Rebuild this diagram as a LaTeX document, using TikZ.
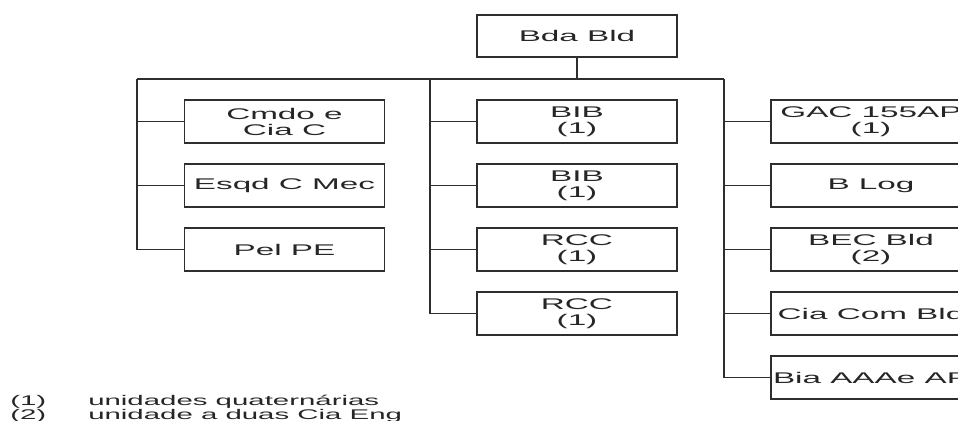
\documentclass[tikz,border=0pt]{standalone}
\usepackage{fontspec}
\setmainfont{Liberation Sans}[FakeStretch=2.15]
\newfontfamily\notefont{Liberation Sans}[FakeStretch=2.1]
\begin{document}
\begin{tikzpicture}[x=0.75pt,y=-0.75pt,
  ln/.style={draw=black!82,line width=1.4pt},
  unit/.style={ln,rectangle,minimum width=150pt,minimum height=32.25pt,inner sep=0pt,
    align=center,text=black!85,font=\fontsize{11.6}{12}\selectfont},
  note/.style={anchor=base west,inner sep=0pt,text=black!85,font=\notefont\fontsize{10.5}{12}\selectfont}]
\useasboundingbox (0,0) rectangle (958,421);
\clip (0,0) rectangle (958,421);
% top
\node[unit,minimum height=31.5pt] (top) at (577,36) {Bda Bld};
\coordinate (busL) at (137,79);
\coordinate (busM) at (430,79);
\coordinate (busR) at (724,79);
\coordinate (busC) at (577,79);
% left column
\node[unit] (l1) at (284.5,121.5) {Cmdo e\\Cia C};
\node[unit] (l2) at (284.5,185.5) {Esqd C Mec};
\node[unit] (l3) at (284.5,249.5) {Pel PE};
% middle column
\node[unit] (m1) at (577,121.5) {BIB\\(1)};
\node[unit] (m2) at (577,185.5) {BIB\\(1)};
\node[unit] (m3) at (577,249.5) {RCC\\(1)};
\node[unit] (m4) at (577,313.5) {RCC\\(1)};
% right column (cut off at the picture's right edge, as in the reference)
\node[unit] (r1) at (871,121.5) {GAC 155AP\\(1)};
\node[unit] (r2) at (871,185.5) {B Log};
\node[unit] (r3) at (871,249.5) {BEC Bld\\(2)};
\node[unit] (r4) at (871,313.5) {Cia Com Bld};
\node[unit] (r5) at (871,377.5) {Bia AAAe AP};
% connectors
\draw[ln] (top.south) -- (busC);
\draw[ln] (busL) -- (busR);
\draw[ln] (busL) |- (l3.west);
\draw[ln] (busL |- l1.west) -- (l1.west);
\draw[ln] (busL |- l2.west) -- (l2.west);
\draw[ln] (busM) |- (m4.west);
\draw[ln] (busM |- m1.west) -- (m1.west);
\draw[ln] (busM |- m2.west) -- (m2.west);
\draw[ln] (busM |- m3.west) -- (m3.west);
\draw[ln] (busR) |- (r5.west);
\draw[ln] (busR |- r1.west) -- (r1.west);
\draw[ln] (busR |- r2.west) -- (r2.west);
\draw[ln] (busR |- r3.west) -- (r3.west);
\draw[ln] (busR |- r4.west) -- (r4.west);
% notes
\node[note] (n1) at (10,405) {(1)};
\node[note] (t1) at (88,405) {unidades quaternárias};
\node[note] (n2) at (10,419) {(2)};
\node[note] (t2) at (88,419) {unidade a duas Cia Eng};
\end{tikzpicture}
\end{document}
